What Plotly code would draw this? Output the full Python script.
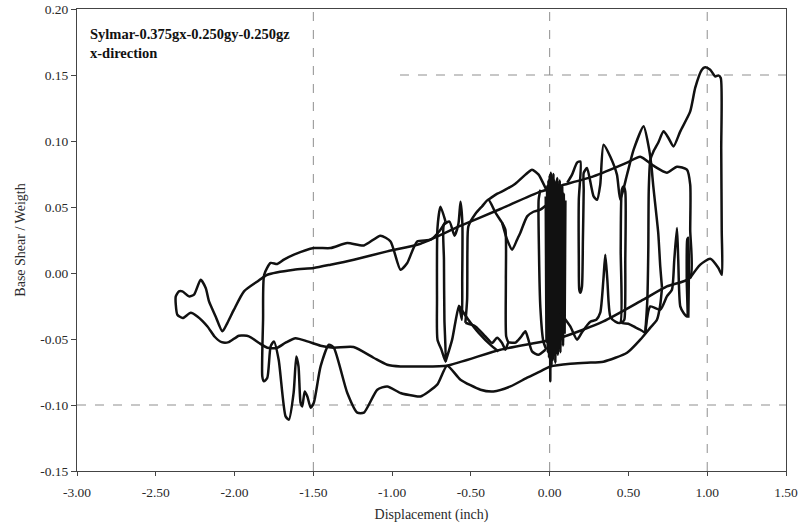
import plotly.graph_objects as go

# Axis ticks
x_ticks = [-3.0, -2.5, -2.0, -1.5, -1.0, -0.5, 0.0, 0.5, 1.0, 1.5]
x_tick_text = ["-3.00", "-2.50", "-2.00", "-1.50", "-1.00", "-0.50", "0.00", "0.50", "1.00", "1.50"]
y_ticks = [-0.15, -0.10, -0.05, 0.00, 0.05, 0.10, 0.15, 0.20]
y_tick_text = ["-0.15", "-0.10", "-0.05", "0.00", "0.05", "0.10", "0.15", "0.20"]

# Hysteresis record: displacement (inch) vs base shear / weight, stored as path pieces
outer_x = [-2.373, -2.353, -2.331, -2.289, -2.257, -2.215, -2.183, -2.162, -2.120, -2.077,
           -2.046, -2.004, -1.940, -1.855, -1.792, -1.623, -1.497, -1.391, -1.243, -1.031,
           -0.820, -0.579, -0.313, -0.059, 0.068, 0.277, 0.491, 0.575, 0.658, 0.744,
           0.808, 0.871, 0.892, 0.892, 0.892, 0.744, 0.594, 0.341, 0.068, -0.313,
           -0.651, -0.820, -0.947, -1.031, -1.118, -1.245, -1.372, -1.454, -1.538, -1.613,
           -1.676, -1.733, -1.792, -1.847, -1.909, -1.972, -2.037, -2.082, -2.126, -2.172,
           -2.236, -2.278, -2.329, -2.363, -2.373, -2.373]
outer_y = [-0.0177, -0.0139, -0.0139, -0.0177, -0.0164, -0.0051, -0.0114, -0.0215, -0.0329, -0.0442,
           -0.0379, -0.0278, -0.0139, -0.0064, -0.0013, 0.0025, 0.0038, 0.0063, 0.0101, 0.0164,
           0.0222, 0.0351, 0.0485, 0.0616, 0.0661, 0.0732, 0.0836, 0.0881, 0.0813, 0.0760,
           0.0805, 0.0783, 0.0669, 0.0328, -0.0036, -0.0102, -0.0202, -0.0367, -0.0490, -0.0581,
           -0.0702, -0.0708, -0.0708, -0.0695, -0.0642, -0.0561, -0.0566, -0.0551, -0.0518, -0.0494,
           -0.0528, -0.0568, -0.0566, -0.0528, -0.0480, -0.0475, -0.0524, -0.0524, -0.0483, -0.0405,
           -0.0329, -0.0301, -0.0341, -0.0316, -0.0240, -0.0177]

lower_x = [0.713, 0.702, 0.681, 0.639, 0.575, 0.491, 0.341, 0.237, 0.131, 0.004,
           -0.059, -0.143, -0.249, -0.357, -0.439, -0.566, -0.651, -0.714, -0.820, -0.864,
           -0.947, -1.031, -1.094, -1.179, -1.221, -1.285, -1.370, -1.401, -1.454, -1.497,
           -1.517, -1.538, -1.555, -1.570, -1.581, -1.594, -1.608, -1.625, -1.655, -1.676,
           -1.720, -1.750, -1.771, -1.792, -1.814, -1.824, -1.819, -1.812, -1.771, -1.729,
           -1.687, -1.623, -1.497, -1.391, -1.285, -1.179, -1.074, -1.010, -0.947, -0.904,
           -0.841, -0.756, -0.693, -0.661]
lower_y = [-0.0111, -0.0240, -0.0354, -0.0414, -0.0505, -0.0604, -0.0672, -0.0680, -0.0687, -0.0708,
           -0.0745, -0.0793, -0.0859, -0.0897, -0.0884, -0.0808, -0.0702, -0.0846, -0.0935, -0.0930,
           -0.0909, -0.0859, -0.0884, -0.1058, -0.1058, -0.0907, -0.0566, -0.0543, -0.0708, -0.0983,
           -0.1020, -0.0935, -0.0897, -0.1011, -0.0983, -0.0708, -0.0632, -0.0907, -0.1111, -0.1086,
           -0.0657, -0.0518, -0.0556, -0.0793, -0.0821, -0.0783, -0.0354, -0.0013, 0.0076, 0.0068,
           0.0101, 0.0139, 0.0189, 0.0189, 0.0227, 0.0209, 0.0283, 0.0239, 0.0025, 0.0076,
           0.0239, 0.0252, 0.0328, 0.0389]

narrow_x = [-0.661, -0.693, -0.712, -0.715, -0.712, -0.687, -0.661, -0.668, -0.671, -0.671,
            -0.636, -0.604, -0.579, -0.566, -0.554, -0.555, -0.557, -0.576, -0.598, -0.619, -0.661]
narrow_y = [0.0389, 0.0502, 0.0343, -0.0202, -0.0505, -0.0581, -0.0672, -0.0354, 0.0101, 0.0366,
            0.0389, 0.0283, 0.0373, 0.0540, 0.0373, -0.0051, -0.0354, -0.0248, -0.0369, -0.0505, -0.0672]

ripple_a_x = [-0.576, -0.516, -0.452, -0.365, -0.325]
ripple_a_y = [-0.0248, -0.0354, -0.0452, -0.0556, -0.0594]

ripple_b_x = [-0.535, -0.471, -0.408, -0.365, -0.334, -0.302, -0.281, -0.262, -0.218, -0.186,
              -0.154, -0.135, -0.112, -0.072, -0.027]
ripple_b_y = [-0.0377, -0.0405, -0.0480, -0.0530, -0.0490, -0.0530, -0.0581, -0.0528, -0.0528, -0.0490,
              -0.0442, -0.0505, -0.0594, -0.0619, -0.0581]

box_x = [-0.535, -0.524, -0.522, -0.516, -0.471, -0.429, -0.389, -0.344, -0.302, -0.281,
         -0.278, -0.276, -0.262]
box_y = [-0.0377, -0.0202, 0.0177, 0.0353, 0.0449, 0.0505, 0.0555, 0.0457, 0.0381, 0.0328,
         -0.0051, -0.0480, -0.0528]

hump_x = [-0.389, -0.332, -0.281, -0.218, -0.154, -0.112, -0.070, -0.040, -0.016]
hump_y = [0.0555, 0.0601, 0.0631, 0.0677, 0.0745, 0.0783, 0.0745, 0.0677, 0.0618]

dip_x = [-0.302, -0.270, -0.238, -0.207, -0.186, -0.143, -0.103, -0.059, -0.027]
dip_y = [0.0381, 0.0252, 0.0177, 0.0252, 0.0305, 0.0429, 0.0464, 0.0480, 0.0510]

edge_x = [-0.059, -0.070, -0.068, -0.059, -0.040, -0.021]
edge_y = [0.0631, 0.0555, 0.0177, -0.0263, -0.0518, -0.0581]

# Dense small-amplitude cycles around zero displacement
dense_x = [-0.025, -0.020, -0.016, -0.012, -0.008, -0.004, 0.000, 0.004, 0.008, 0.012,
           0.016, 0.020, 0.024, 0.028, 0.032, 0.036, 0.040, 0.044, 0.048, 0.052,
           0.056, 0.060, 0.064, 0.068, 0.072, 0.076, 0.080, 0.085, 0.090, 0.095, 0.100]
dense_y = [0.058, -0.052, 0.066, -0.060, 0.070, -0.064, 0.074, -0.082, 0.076, -0.070,
           0.072, -0.066, 0.075, -0.060, 0.070, -0.068, 0.068, -0.058, 0.072, -0.062,
           0.066, -0.055, 0.070, -0.060, 0.064, -0.050, 0.066, -0.055, 0.060, -0.045, 0.055]

upper_x = [0.112, 0.142, 0.174, 0.195, 0.185, 0.185, 0.188, 0.195, 0.205, 0.211,
           0.216, 0.216, 0.237, 0.279, 0.301, 0.321, 0.342, 0.385, 0.427, 0.448,
           0.491, 0.533, 0.596, 0.628, 0.645, 0.658, 0.689, 0.702, 0.713]
upper_y = [0.0684, 0.0745, 0.0836, 0.0845, 0.0555, 0.0101, -0.0127, -0.0149, -0.0102, 0.0252,
           0.0631, 0.0758, 0.0795, 0.0580, 0.0555, 0.0669, 0.0972, 0.0881, 0.0745, 0.0555,
           0.0745, 0.0934, 0.1111, 0.0959, 0.0820, 0.0654, 0.0305, 0.0048, -0.0111]

wiggle_x = [0.068, 0.131, 0.174, 0.207, 0.258, 0.296, 0.321, 0.341, 0.353, 0.366,
            0.385, 0.417, 0.448, 0.451, 0.458, 0.469, 0.480, 0.480, 0.474, 0.459,
            0.499, 0.533, 0.575, 0.607]
wiggle_y = [-0.0301, -0.0405, -0.0505, -0.0445, -0.0369, -0.0354, -0.0301, -0.0051, 0.0139, -0.0051,
            -0.0329, -0.0369, -0.0377, 0.0177, 0.0631, 0.0656, 0.0616, 0.0101, -0.0354, -0.0379,
            -0.0384, -0.0405, -0.0430, -0.0455]

peak_x = [0.607, 0.620, 0.626, 0.629, 0.639, 0.658, 0.689, 0.723, 0.753, 0.786,
          0.829, 0.892, 0.924, 0.966, 0.987, 1.019, 1.051, 1.070, 1.086, 1.089,
          1.092, 1.093, 1.070, 1.019, 0.956, 0.892]
peak_y = [-0.0455, -0.0202, 0.0177, 0.0631, 0.0858, 0.0919, 0.0987, 0.1073, 0.1025, 0.0959,
          0.1073, 0.1224, 0.1404, 0.1540, 0.1558, 0.1540, 0.1489, 0.1497, 0.1477, 0.0934,
          0.0328, -0.0013, 0.0040, 0.0108, 0.0063, -0.0036]

spikes_x = [0.607, 0.639, 0.702, 0.744, 0.776, 0.791, 0.808, 0.816, 0.829, 0.850,
            0.871, 0.870, 0.873, 0.880, 0.883, 0.880]
spikes_y = [-0.0455, -0.0253, -0.0278, -0.0177, -0.0127, 0.0101, 0.0341, 0.0101, -0.0253, -0.0303,
            -0.0329, -0.0051, 0.0252, 0.0267, -0.0051, -0.0339]

pieces = [
    (outer_x, outer_y), (lower_x, lower_y), (narrow_x, narrow_y),
    (ripple_a_x, ripple_a_y), (ripple_b_x, ripple_b_y), (box_x, box_y),
    (hump_x, hump_y), (dip_x, dip_y), (edge_x, edge_y), (dense_x, dense_y),
    (upper_x, upper_y), (wiggle_x, wiggle_y), (peak_x, peak_y), (spikes_x, spikes_y),
]

fig = go.Figure()
for px_, py_ in pieces:
    fig.add_trace(go.Scatter(
        x=px_, y=py_, mode="lines",
        line=dict(color="#111111", width=2.5, shape="spline", smoothing=0.6),
        showlegend=False, hoverinfo="skip",
    ))

grid = dict(type="line", line=dict(color="#8f8f8f", width=1, dash="dash"), layer="below")
for gx in [-1.5, 0.0, 1.0]:
    fig.add_shape(x0=gx, x1=gx, y0=-0.15, y1=0.20, xref="x", yref="y", **grid)
fig.add_shape(x0=-3.0, x1=1.5, y0=-0.10, y1=-0.10, xref="x", yref="y", **grid)
fig.add_shape(x0=-0.95, x1=1.5, y0=0.15, y1=0.15, xref="x", yref="y", **grid)

serif = "Liberation Serif, Times New Roman, serif"

fig.add_annotation(
    text="<b>Sylmar-0.375gx-0.250gy-0.250gz<br>x-direction</b>",
    xref="paper", yref="paper", x=0.015, y=0.968, xanchor="left", yanchor="top",
    align="left", showarrow=False, font=dict(family=serif, size=14.5, color="#111111"),
)

fig.update_layout(
    width=802, height=530,
    margin=dict(l=77, r=16, t=9, b=59, autoexpand=False),
    paper_bgcolor="white", plot_bgcolor="white",
    font=dict(family=serif, size=13.5, color="#2a2a2a"),
    xaxis=dict(
        range=[-3.0, 1.5], tickvals=x_ticks, ticktext=x_tick_text, automargin=False,
        showgrid=False, zeroline=False, showline=True, linecolor="#444444", linewidth=1,
        mirror=True, ticks="outside", ticklen=4, tickcolor="#444444",
        ticklabelstandoff=5,
        title=dict(text="Displacement (inch)", font=dict(family=serif, size=14), standoff=9),
    ),
    yaxis=dict(
        range=[-0.15, 0.20], tickvals=y_ticks, ticktext=y_tick_text, automargin=False,
        showgrid=False, zeroline=False, showline=True, linecolor="#444444", linewidth=1,
        mirror=True, ticks="outside", ticklen=5, tickcolor="#444444",
        title=dict(text="Base Shear / Weigth", font=dict(family=serif, size=14), standoff=11),
    ),
)

fig.write_html("out.html")
